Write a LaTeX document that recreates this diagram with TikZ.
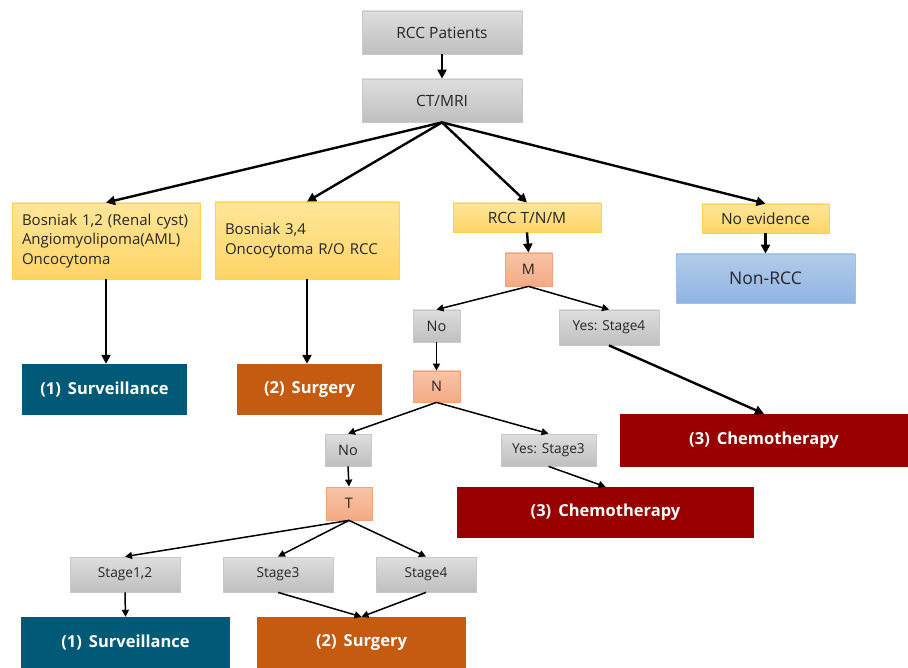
\documentclass[tikz,border=0pt]{standalone}
\usepackage{fontspec}
\setmainfont{Open Sans}
\usetikzlibrary{arrows.meta,positioning}
\definecolor{gtop}{HTML}{DEDEDE}
\definecolor{gbot}{HTML}{BFBFBF}
\definecolor{gline}{HTML}{C8C8C8}
\definecolor{ytop}{HTML}{FFE699}
\definecolor{ybot}{HTML}{FFD466}
\definecolor{yline}{HTML}{FFD24D}
\definecolor{stop}{HTML}{F8C4A8}
\definecolor{sbot}{HTML}{F4AA84}
\definecolor{sline}{HTML}{F4A07A}
\definecolor{btop}{HTML}{B2CBEA}
\definecolor{bbot}{HTML}{8FB4E3}
\definecolor{bline}{HTML}{9DC0EA}
\definecolor{survc}{HTML}{005A77}
\definecolor{surgc}{HTML}{C55A11}
\definecolor{chemc}{HTML}{990000}
\tikzset{
  box/.style={rectangle, inner sep=0pt, font=\fontsize{15.5}{19.5}\selectfont, text=black!85},
  smallf/.style={font=\fontsize{13.7}{16}\selectfont},
  midf/.style={font=\fontsize{14.5}{17}\selectfont},
  gbox/.style={box, top color=gtop, bottom color=gbot, draw=gline, line width=0.8pt},
  ybox/.style={box, top color=ytop, bottom color=ybot, draw=yline, line width=0.8pt},
  sbox/.style={box, top color=stop, bottom color=sbot, draw=sline, line width=0.8pt, midf},
  bbox/.style={box, top color=btop, bottom color=bbot, draw=bline, line width=0.8pt, font=\fontsize{17.5}{20}\selectfont},
  outc/.style={rectangle, inner sep=0pt, text=white, font=\fontsize{16.5}{19}\selectfont\bfseries},
  surv/.style={outc, fill=survc},
  surg/.style={outc, fill=surgc},
  chem/.style={outc, fill=chemc},
  thk/.style={line width=2.4pt, -{Triangle[length=9pt,width=9pt]}},
  thn/.style={line width=1.5pt, -{Triangle[length=7pt,width=7pt]}},
}
\begin{document}
\begin{tikzpicture}[x=1pt,y=-1pt]
\useasboundingbox (0,0) rectangle (908,668);
\fill[white] (0,0) rectangle (908,668);
% top
\node[gbox, minimum width=160pt, minimum height=43pt] (rcc) at (442,32.5) {RCC Patients};
\node[gbox, minimum width=160pt, minimum height=43pt] (ct) at (442,100.5) {CT/MRI};
% level 2
\node[ybox, font=\fontsize{15}{19.5}\selectfont, minimum width=188pt, minimum height=76pt, text width=168pt, align=left] (b1) at (106,241)
  {Bosniak 1,2 (Renal cyst)\\Angiomyolipoma(AML)\\Oncocytoma};
\node[ybox, font=\fontsize{15}{19.5}\selectfont, minimum width=184pt, minimum height=77pt, text width=164pt, align=left] (b2) at (307,240.5)
  {Bosniak 3,4\\Oncocytoma R/O RCC};
\node[ybox, minimum width=148pt, minimum height=29pt] (tnm) at (527,217.5) {RCC T/N/M};
\node[ybox, minimum width=127pt, minimum height=29pt] (noev) at (765.5,218.5) {No evidence};
\node[bbox, minimum width=179pt, minimum height=49pt] (nonrcc) at (765.5,278.5) {Non-RCC};
% outcomes top
\node[surv, minimum width=165pt, minimum height=51pt] (surv1) at (104.5,389.5) {(1)\, Surveillance};
\node[surg, minimum width=145pt, minimum height=51pt] (surg1) at (309.5,389.5) {(2)\, Surgery};
% M branch
\node[sbox, minimum width=47pt, minimum height=33pt] (m) at (528.5,269.5) {M};
\node[gbox, midf, minimum width=47pt, minimum height=32pt] (no1) at (436.5,326) {No};
\node[gbox, smallf, minimum width=100pt, minimum height=35pt] (ys4) at (609,327.5) {Yes: Stage4};
\node[chem, minimum width=288pt, minimum height=53pt] (chem1) at (764,440.5) {(3)\, Chemotherapy};
% N branch
\node[sbox, minimum width=47pt, minimum height=31pt] (n) at (436.5,386.5) {N};
\node[gbox, midf, minimum width=46pt, minimum height=32pt] (no2) at (348,450) {No};
\node[gbox, smallf, minimum width=95pt, minimum height=32pt] (ys3) at (548.5,450) {Yes: Stage3};
\node[chem, minimum width=297pt, minimum height=51pt] (chem2) at (605.5,512.5) {(3)\, Chemotherapy};
% T branch
\node[sbox, minimum width=46pt, minimum height=33pt] (t) at (349,503.5) {T};
\node[gbox, smallf, minimum width=110pt, minimum height=35pt] (s12) at (125,574.5) {Stage1,2};
\node[gbox, smallf, minimum width=110pt, minimum height=35pt] (s3) at (278,574.5) {Stage3};
\node[gbox, smallf, minimum width=100pt, minimum height=35pt] (s4) at (426,574.5) {Stage4};
\node[surv, minimum width=209pt, minimum height=51pt] (surv2) at (125.5,642.5) {(1)\, Surveillance};
\node[surg, minimum width=209pt, minimum height=51pt] (surg2) at (361.5,642.5) {(2)\, Surgery};
% arrows
\draw[thk] (rcc.south) -- (ct.north);
\draw[thk] (ct.south) -- (b1.north);
\draw[thk] (ct.south) -- (b2.north);
\draw[thk] (ct.south) -- (tnm.north);
\draw[thk] (ct.south) -- (noev.north);
\draw[thk] (b1.south) -- (surv1.north -| b1.south);
\draw[thk] (b2.south) -- (surg1.north -| b2.south);
\draw[thk] (tnm.south) -- (m.north);
\draw[thk] (noev.south) -- (nonrcc.north);
\draw[thn] (m.south) -- (no1.north);
\draw[thn] (m.south) -- (ys4.north);
\draw[thk] (ys4.south) -- (chem1.north);
\draw[thn] (no1.south) -- (n.north);
\draw[thn] (n.south) -- (no2.north);
\draw[thn] (n.south) -- (ys3.north);
\draw[thn] (ys3.south) -- (chem2.north);
\draw[thn] (no2.south) -- (t.north);
\draw[thn] (t.south) -- (s12.north);
\draw[thn] (t.south) -- (s3.north);
\draw[thn] (t.south) -- (s4.north);
\draw[thn] (s12.south) -- (surv2.north);
\draw[thn] (s3.south) -- (surg2.north);
\draw[thn] (s4.south) -- (surg2.north);
\end{tikzpicture}
\end{document}
